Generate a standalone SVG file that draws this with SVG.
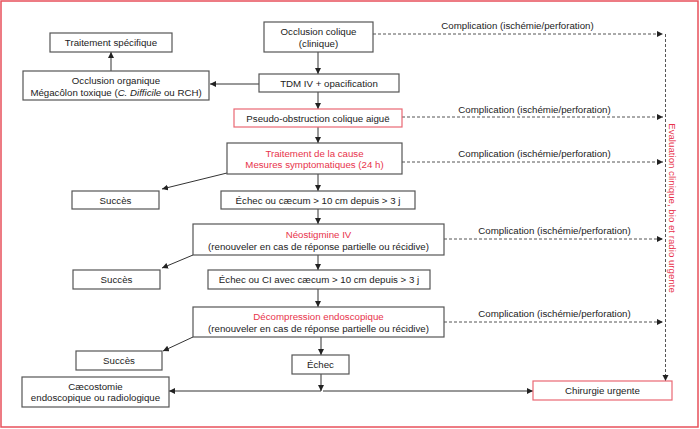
<svg xmlns="http://www.w3.org/2000/svg" width="700" height="429" viewBox="0 0 700 429">
<defs>
<marker id="ah" markerUnits="userSpaceOnUse" markerWidth="7" markerHeight="7" refX="6" refY="3" orient="auto"><path d="M0,0 L6,3 L0,6 z" fill="#222"/></marker>
<style>
.b{fill:#fff;stroke:#555;stroke-width:1.2}
.r{fill:#fff;stroke:#ea6873;stroke-width:1.2}
text{font-family:"Liberation Sans",Arial,sans-serif;font-size:9.7px;fill:#222;text-anchor:middle}
.red{fill:#e8334b}
.c line,.c path{stroke:#333;stroke-width:1;fill:none}
.c .d{stroke:#555;stroke-dasharray:3,2}
</style>
</defs>
<rect x="1" y="1" width="697" height="426" fill="#fff" stroke="#e8505b" stroke-width="1.5"/>
<g class="c">
<line x1="318" y1="52" x2="318" y2="74" marker-end="url(#ah)"/>
<line x1="318" y1="92" x2="318" y2="109" marker-end="url(#ah)"/>
<line x1="318" y1="127" x2="318" y2="143" marker-end="url(#ah)"/>
<line x1="318" y1="174" x2="318" y2="191" marker-end="url(#ah)"/>
<line x1="318" y1="209" x2="318" y2="224" marker-end="url(#ah)"/>
<line x1="318" y1="255" x2="318" y2="270" marker-end="url(#ah)"/>
<line x1="318" y1="289" x2="318" y2="307" marker-end="url(#ah)"/>
<line x1="321" y1="337" x2="321" y2="355" marker-end="url(#ah)"/>
<line x1="321" y1="374" x2="321" y2="391" marker-end="url(#ah)"/>
<line x1="321" y1="391" x2="169" y2="391" marker-end="url(#ah)"/>
<line x1="323" y1="391" x2="533" y2="391" marker-end="url(#ah)"/>
<line x1="259" y1="84" x2="210" y2="84" marker-end="url(#ah)"/>
<line x1="111" y1="71" x2="111" y2="52" marker-end="url(#ah)"/>
<line x1="227" y1="173" x2="162" y2="189" marker-end="url(#ah)"/>
<line x1="193" y1="255" x2="162" y2="268" marker-end="url(#ah)"/>
<line x1="193" y1="337" x2="163" y2="351" marker-end="url(#ah)"/>
<line class="d" x1="373" y1="34" x2="663" y2="34" marker-end="url(#ah)"/>
<line class="d" x1="402" y1="117" x2="663" y2="117" marker-end="url(#ah)"/>
<line class="d" x1="402" y1="162" x2="663" y2="162" marker-end="url(#ah)"/>
<line class="d" x1="444" y1="239" x2="663" y2="239" marker-end="url(#ah)"/>
<line class="d" x1="444" y1="322" x2="663" y2="322" marker-end="url(#ah)"/>
<line class="d" x1="665.5" y1="34" x2="665.5" y2="381" marker-end="url(#ah)"/>
<text x="517.5" y="28.5">Complication (ischémie/perforation)</text>
<text x="534.5" y="112.5">Complication (ischémie/perforation)</text>
<text x="534.5" y="156.5">Complication (ischémie/perforation)</text>
<text x="554.5" y="233.5">Complication (ischémie/perforation)</text>
<text x="554.5" y="316.5">Complication (ischémie/perforation)</text>
<text class="red" transform="translate(672,208) rotate(90)" y="3.5">Evaluation clinique, bio et radio urgente</text>
</g>
<g id="occlusion-colique"><rect class="b" x="264" y="22" width="109" height="30"/><text x="318.5" y="35">Occlusion colique</text><text x="318.5" y="47">(clinique)</text></g>
<g id="traitement-specifique"><rect class="b" x="50" y="33" width="122" height="19"/><text x="111" y="46">Traitement spécifique</text></g>
<g id="occlusion-organique"><rect class="b" x="23" y="71" width="186" height="29"/><text x="116" y="83.5">Occlusion organique</text><text x="116" y="95.5">Mégacôlon toxique (<tspan font-style="italic">C. Difficile</tspan> ou RCH)</text></g>
<g id="tdm"><rect class="b" x="259" y="74" width="140" height="18"/><text x="329" y="86.5">TDM IV + opacification</text></g>
<g id="pseudo-obstruction"><rect class="r" x="234" y="109" width="168" height="18"/><text x="318" y="121.5">Pseudo-obstruction colique aiguë</text></g>
<g id="traitement-cause"><rect class="b" x="227" y="143" width="175" height="31"/><text class="red" x="314.5" y="156.5">Traitement de la cause</text><text class="red" x="314.5" y="168">Mesures symptomatiques (24 h)</text></g>
<g id="succes-1"><rect class="b" x="72" y="191" width="87" height="18"/><text x="115.5" y="203.5">Succès</text></g>
<g id="echec-1"><rect class="b" x="221" y="191" width="194" height="18"/><text x="318" y="203.5">Échec ou cæcum &gt; 10 cm depuis &gt; 3 j</text></g>
<g id="neostigmine"><rect class="b" x="193" y="224" width="251" height="31"/><text class="red" x="318.5" y="237.5">Néostigmine IV</text><text x="318.5" y="249.5">(renouveler en cas de réponse partielle ou récidive)</text></g>
<g id="succes-2"><rect class="b" x="73" y="270" width="87" height="19"/><text x="116.5" y="283">Succès</text></g>
<g id="echec-2"><rect class="b" x="208" y="270" width="222" height="19"/><text x="319" y="283">Échec ou CI avec cæcum &gt; 10 cm depuis &gt; 3 j</text></g>
<g id="decompression"><rect class="b" x="193" y="307" width="251" height="30"/><text class="red" x="318.5" y="319.5">Décompression endoscopique</text><text x="318.5" y="331.5">(renouveler en cas de réponse partielle ou récidive)</text></g>
<g id="succes-3"><rect class="b" x="76" y="351" width="86" height="19"/><text x="119" y="364">Succès</text></g>
<g id="echec-3"><rect class="b" x="292" y="355" width="57" height="19"/><text x="320.5" y="368">Échec</text></g>
<g id="caecostomie"><rect class="b" x="22" y="377" width="147" height="30"/><text x="95.5" y="389.5">Cæcostomie</text><text x="95.5" y="401">endoscopique ou radiologique</text></g>
<g id="chirurgie"><rect class="r" x="533" y="381" width="139" height="19"/><text x="602.5" y="394">Chirurgie urgente</text></g>
</svg>
